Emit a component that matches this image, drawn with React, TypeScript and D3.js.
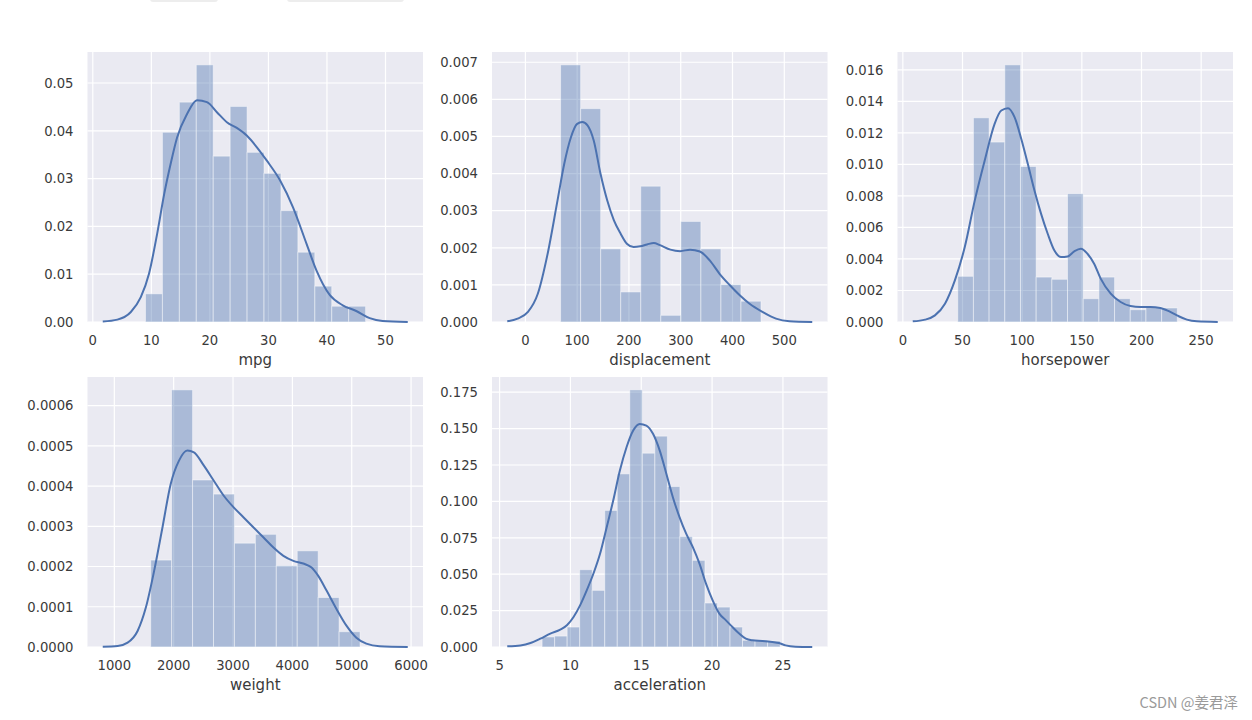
import { useEffect, useRef } from 'react';
import * as d3 from 'd3';

// --- data (distplot of the auto-mpg columns) ---

// mpg
const mpgRange = [9, 46.6];
const mpgHist = [0.0059, 0.0397, 0.046, 0.0538, 0.0347, 0.0451, 0.0355, 0.0311, 0.0233, 0.0146, 0.0075, 0.0033, 0.0033];
const mpgKdeX = [1.7, 4.2, 6.5, 8.2, 9.6, 11.0, 12.2, 13.3, 14.4, 16.1, 17.8, 19.5, 21.2, 22.9, 24.6, 26.3, 28.0, 29.7, 32.0, 34.2, 36.5, 38.2, 40.5, 42.7, 45.0, 47.3, 49.5, 53.8];
const mpgKdeY = [0.0001, 0.0005, 0.0021, 0.0052, 0.0101, 0.0185, 0.0268, 0.0331, 0.0386, 0.0435, 0.0464, 0.046, 0.0439, 0.0418, 0.0406, 0.039, 0.0366, 0.0338, 0.0296, 0.024, 0.0164, 0.0108, 0.0056, 0.0035, 0.0023, 0.0008, 0.0002, 0];
const mpgXTicks = [0, 10, 20, 30, 40, 50];
const mpgYTicks = [0, 0.01, 0.02, 0.03, 0.04, 0.05];

// displacement
const dispRange = [68, 455];
const dispHist = [0.00693, 0.00575, 0.00197, 0.00081, 0.00366, 0.00018, 0.00271, 0.00197, 0.00101, 0.00056];
const dispKdeX = [-35, -15, 5, 24, 43, 62, 75, 88, 100, 110, 120, 132, 145, 158, 171, 184, 196, 209, 222, 235, 248, 260, 280, 299, 318, 337, 356, 375, 395, 414, 433, 458, 484, 510, 554];
const dispKdeY = [0.00002, 0.00009, 0.00027, 0.00076, 0.00184, 0.00327, 0.00426, 0.00498, 0.00534, 0.00539, 0.0053, 0.00489, 0.004, 0.00328, 0.00274, 0.00238, 0.00211, 0.00202, 0.00204, 0.00209, 0.00213, 0.00207, 0.00195, 0.00191, 0.00195, 0.0019, 0.00166, 0.0013, 0.00099, 0.00072, 0.00049, 0.00027, 0.00009, 0.00002, 0];
const dispXTicks = [0, 100, 200, 300, 400, 500];
const dispYTicks = [0, 0.001, 0.002, 0.003, 0.004, 0.005, 0.006, 0.007];

// horsepower
const hpRange = [46, 230];
const hpHist = [0.0029, 0.01296, 0.01142, 0.01632, 0.00987, 0.00285, 0.00271, 0.00814, 0.00148, 0.00285, 0.00148, 0.00078, 0.00095, 0.00089];
const hpKdeX = [8.3, 18.6, 26.9, 35.3, 43.6, 51.9, 60.3, 68.6, 76.9, 82.5, 88.1, 93.6, 99.2, 104.7, 110.3, 115.8, 121.4, 126.9, 132.5, 138.1, 143.6, 149.2, 154.7, 160.3, 165.8, 174.2, 182.5, 190.8, 199.2, 207.5, 215.8, 221.4, 229.7, 238, 246.4, 263.9];
const hpKdeY = [0.00004, 0.00015, 0.00042, 0.00116, 0.00264, 0.00476, 0.00772, 0.01025, 0.01258, 0.01342, 0.01357, 0.013, 0.01163, 0.01004, 0.00835, 0.00688, 0.0056, 0.00455, 0.00412, 0.00416, 0.00448, 0.00465, 0.00433, 0.0037, 0.00275, 0.0018, 0.00127, 0.00101, 0.00095, 0.00095, 0.00089, 0.00074, 0.00042, 0.00015, 0.00004, 0];
const hpXTicks = [0, 50, 100, 150, 200, 250];
const hpYTicks = [0, 0.002, 0.004, 0.006, 0.008, 0.01, 0.012, 0.014, 0.016];

// weight
const wtRange = [1613, 5140];
const wtHist = [0.000216, 0.000639, 0.000415, 0.00038, 0.000258, 0.00028, 0.000202, 0.000239, 0.000123, 0.000038];
const wtKdeX = [805, 1056, 1224, 1392, 1531, 1671, 1811, 1950, 2090, 2230, 2341, 2509, 2676, 2844, 3011, 3179, 3346, 3514, 3681, 3849, 4017, 4184, 4324, 4436, 4576, 4743, 4911, 5078, 5246, 5469, 5944];
const wtKdeY = [0.0000008, 0.0000025, 0.0000108, 0.0000398, 0.0000979, 0.0001892, 0.0002971, 0.000405, 0.0004631, 0.000488, 0.0004838, 0.0004506, 0.0004133, 0.0003759, 0.0003469, 0.000322, 0.0002971, 0.0002722, 0.0002473, 0.0002266, 0.0002141, 0.0002075, 0.0001975, 0.0001768, 0.0001402, 0.0000946, 0.0000531, 0.0000232, 0.0000083, 0.0000017, 0];
const wtXTicks = [1000, 2000, 3000, 4000, 5000, 6000];
const wtYTicks = [0, 0.0001, 0.0002, 0.0003, 0.0004, 0.0005, 0.0006];

// acceleration
const accRange = [8, 24.8];
const accHist = [0.0069, 0.0075, 0.0137, 0.0531, 0.0389, 0.0938, 0.1189, 0.1766, 0.1331, 0.1448, 0.1102, 0.0759, 0.0595, 0.0302, 0.0274, 0.0137, 0.0046, 0.0046, 0.0041];
const accKdeX = [5.54, 6.47, 7.18, 7.88, 8.58, 9.28, 9.75, 10.22, 10.68, 11.15, 11.62, 12.09, 12.56, 13.02, 13.49, 13.96, 14.43, 14.89, 15.36, 15.83, 16.3, 16.77, 17.23, 17.7, 18.17, 18.64, 19.11, 19.57, 20.04, 20.51, 20.98, 21.44, 21.91, 22.38, 22.85, 23.55, 24.25, 24.72, 25.19, 25.89, 27.07];
const accKdeY = [0.0005, 0.0011, 0.0027, 0.0057, 0.0092, 0.0119, 0.0149, 0.0206, 0.0286, 0.0389, 0.0503, 0.064, 0.0823, 0.1006, 0.1212, 0.1372, 0.1487, 0.1532, 0.1521, 0.1464, 0.135, 0.119, 0.1029, 0.0892, 0.0778, 0.0686, 0.0572, 0.0435, 0.032, 0.0229, 0.0183, 0.0137, 0.0092, 0.0057, 0.0046, 0.0041, 0.0034, 0.0027, 0.0011, 0.0002, 0];
const accXTicks = [5, 10, 15, 20, 25];
const accYTicks = [0, 0.025, 0.05, 0.075, 0.1, 0.125, 0.15, 0.175];

const panels = [
    { label: 'mpg', range: mpgRange, hist: mpgHist, kx: mpgKdeX, ky: mpgKdeY, xTicks: mpgXTicks, yTicks: mpgYTicks, yFmt: '.2f', col: 0, row: 0 },
    { label: 'displacement', range: dispRange, hist: dispHist, kx: dispKdeX, ky: dispKdeY, xTicks: dispXTicks, yTicks: dispYTicks, yFmt: '.3f', col: 1, row: 0 },
    { label: 'horsepower', range: hpRange, hist: hpHist, kx: hpKdeX, ky: hpKdeY, xTicks: hpXTicks, yTicks: hpYTicks, yFmt: '.3f', col: 2, row: 0 },
    { label: 'weight', range: wtRange, hist: wtHist, kx: wtKdeX, ky: wtKdeY, xTicks: wtXTicks, yTicks: wtYTicks, yFmt: '.4f', col: 0, row: 1 },
    { label: 'acceleration', range: accRange, hist: accHist, kx: accKdeX, ky: accKdeY, xTicks: accXTicks, yTicks: accYTicks, yFmt: '.3f', col: 1, row: 1 },
];

export default function App() {
    const svgRef = useRef<SVGSVGElement>(null);

    useEffect(() => {
        if (!svgRef.current) return;
        const svg = d3.select(svgRef.current);
        svg.selectAll('*').remove();

        const bg = '#eaeaf2';
        const blue = '#4c72b0';
        const textColor = '#3a3a3a';
        const font = 'DejaVu Sans, sans-serif';

        const colLeft = [87.5, 492, 897.5];
        const rowTop = [52, 377];
        const pw = 335.5;
        const ph = 270;

        // little grey tabs cut off at the top of the screenshot
        svg.append('rect').attr('x', 150).attr('y', -5).attr('width', 68).attr('height', 7).attr('rx', 3).attr('fill', '#ededed');
        svg.append('rect').attr('x', 287).attr('y', -5).attr('width', 117).attr('height', 7).attr('rx', 3).attr('fill', '#ededed');

        panels.forEach(p => {
            const left = colLeft[p.col];
            const top = rowTop[p.row];
            const g = svg.append('g').attr('transform', `translate(${left},${top})`);

            // matplotlib style 5% margins around the kde support
            const [kmin, kmax] = d3.extent(p.kx) as [number, number];
            const pad = (kmax - kmin) * 0.05;
            const x = d3.scaleLinear().domain([kmin - pad, kmax + pad]).range([0, pw]);
            const y = d3.scaleLinear().domain([0, d3.max(p.hist)! * 1.05]).range([ph, 0]);

            g.append('rect').attr('width', pw).attr('height', ph).attr('fill', bg);

            // grid
            p.xTicks.forEach(t => {
                g.append('line')
                    .attr('x1', x(t)).attr('x2', x(t))
                    .attr('y1', 0).attr('y2', ph)
                    .attr('stroke', '#fff').attr('stroke-width', 1.2);
            });
            p.yTicks.forEach(t => {
                g.append('line')
                    .attr('x1', 0).attr('x2', pw)
                    .attr('y1', y(t)).attr('y2', y(t))
                    .attr('stroke', '#fff').attr('stroke-width', 1.2);
            });

            // histogram
            const step = (p.range[1] - p.range[0]) / p.hist.length;
            g.selectAll('rect.bar')
                .data(p.hist)
                .enter()
                .append('rect')
                .attr('class', 'bar')
                .attr('x', (_, i) => x(p.range[0] + i * step))
                .attr('width', (_, i) => x(p.range[0] + (i + 1) * step) - x(p.range[0] + i * step))
                .attr('y', d => y(d))
                .attr('height', d => ph - y(d))
                .attr('fill', blue)
                .attr('fill-opacity', 0.4)
                .attr('stroke', '#fff')
                .attr('stroke-opacity', 0.45)
                .attr('stroke-width', 1);

            // kde
            const pts = p.kx.map((v, i) => [v, p.ky[i]] as [number, number]);
            const line = d3.line<[number, number]>()
                .x(d => x(d[0]))
                .y(d => y(d[1]))
                .curve(d3.curveMonotoneX);
            g.append('path')
                .attr('d', line(pts))
                .attr('fill', 'none')
                .attr('stroke', blue)
                .attr('stroke-width', 2);

            // tick labels
            p.xTicks.forEach(t => {
                g.append('text')
                    .attr('x', x(t)).attr('y', ph + 23)
                    .attr('text-anchor', 'middle')
                    .attr('font-family', font).attr('font-size', 13.2)
                    .attr('fill', textColor)
                    .text(String(t));
            });
            const fmt = d3.format(p.yFmt);
            p.yTicks.forEach(t => {
                g.append('text')
                    .attr('x', -14).attr('y', y(t))
                    .attr('dy', '0.36em')
                    .attr('text-anchor', 'end')
                    .attr('font-family', font).attr('font-size', 13.2)
                    .attr('fill', textColor)
                    .text(fmt(t));
            });

            g.append('text')
                .attr('x', pw / 2).attr('y', ph + 43)
                .attr('text-anchor', 'middle')
                .attr('font-family', font).attr('font-size', 15)
                .attr('fill', textColor)
                .text(p.label);
        });

        // watermark
        svg.append('text')
            .attr('x', 1238).attr('y', 708)
            .attr('text-anchor', 'end')
            .attr('font-family', 'Noto Sans CJK SC, sans-serif')
            .attr('font-size', 14.5)
            .attr('fill', '#9a9a9a')
            .text('CSDN @姜君泽');
    }, []);

    return (
        <div style={{ position: 'absolute', left: 0, top: 0, width: 1252, height: 720, background: '#fff' }}>
            <svg ref={svgRef} width={1252} height={720} />
        </div>
    );
}
